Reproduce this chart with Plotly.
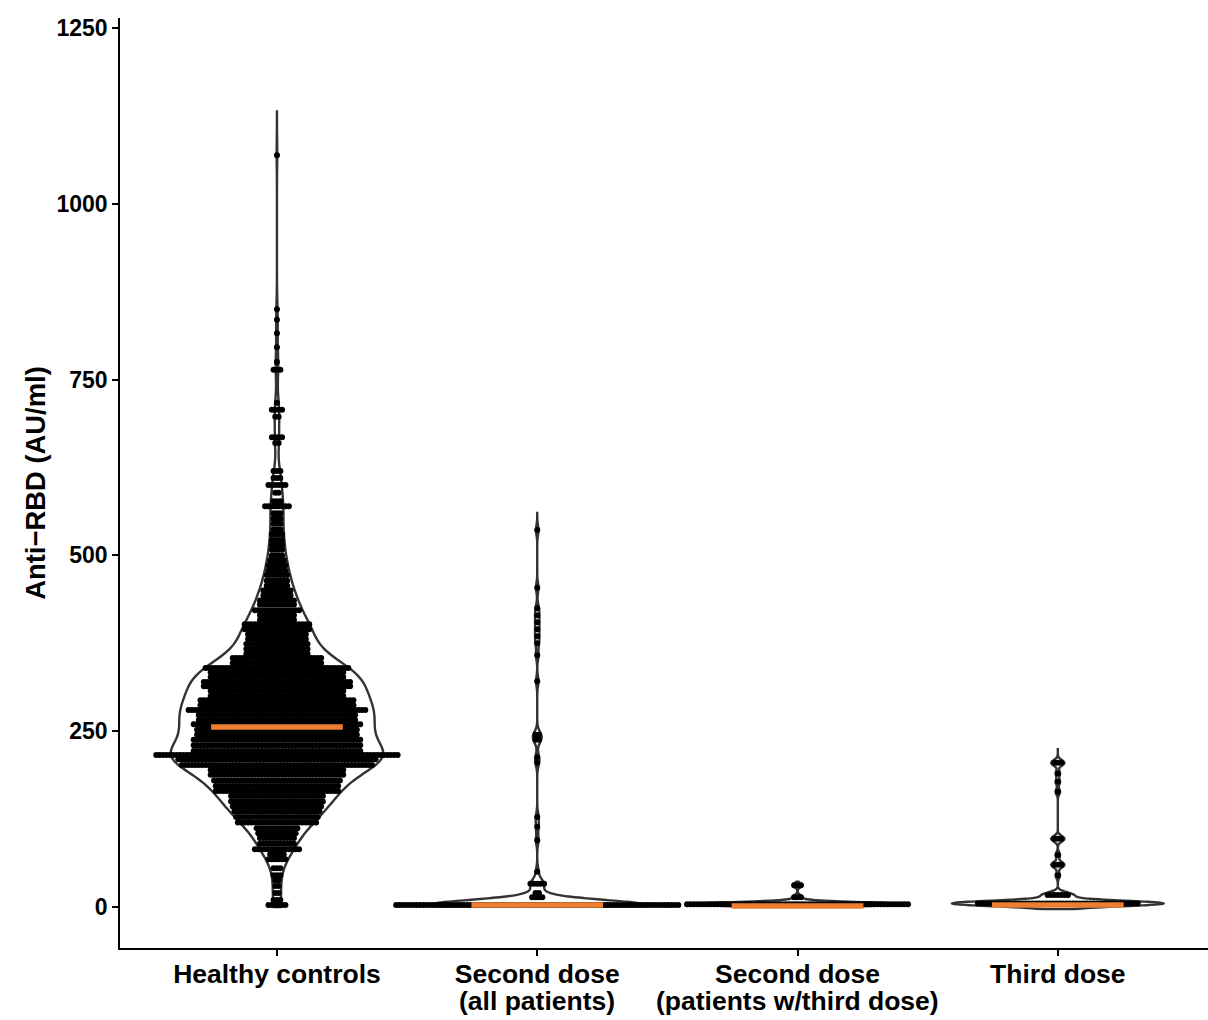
import numpy as np
import plotly.graph_objects as go

# ---------------- data ----------------
categories = ["Healthy controls", "Second dose", "Second dose", "Third dose"]
subtitles = ["", "(all patients)", "(patients w/third dose)", ""]

# dot-plot rows: bin value (AU/ml) and number of dots in that row
healthy_bins = [3, 10, 20, 30, 38, 45, 55, 68, 75, 82, 90, 98, 105, 112, 120, 128, 136, 143, 150, 158,
                165, 172, 180, 188, 195, 202, 210, 216, 222, 230, 238, 245, 252, 260, 266, 273, 280, 287,
                294, 300, 307, 314, 320, 327, 334, 340, 347, 354, 360, 367, 374, 381, 388, 395, 402, 408,
                415, 422, 430, 436, 443, 450, 457, 464, 472, 478, 486, 493, 500, 508, 515, 522, 530, 537,
                545, 552, 560, 570, 577, 589, 600, 610, 620, 660, 668, 697, 707, 717, 764, 775, 796, 816,
                835, 850, 1069]
healthy_counts = [6, 3, 2, 2, 2, 3, 3, 6, 5, 14, 11, 11, 12, 13, 24, 25, 26, 27, 28, 28,
                  37, 37, 38, 40, 40, 57, 59, 72, 50, 50, 50, 48, 48, 50, 47, 47, 53, 46,
                  46, 40, 40, 44, 44, 40, 40, 43, 27, 27, 19, 19, 19, 18, 18, 20, 20, 11,
                  11, 14, 11, 11, 9, 9, 7, 7, 7, 6, 6, 5, 4, 4, 4, 4, 4, 3,
                  3, 3, 3, 8, 3, 2, 6, 3, 3, 2, 4, 2, 4, 1, 3, 1, 1, 1,
                  1, 1, 1]

second_all_bins = [3, 14, 20, 33, 50, 95, 114, 128, 205, 213, 238, 245, 321, 358, 375, 385, 395,
                   405, 415, 425, 454, 536]
second_all_counts = [84, 4, 2, 5, 1, 1, 1, 1, 1, 1, 2, 2, 1, 1, 1, 1, 1,
                     1, 1, 1, 1, 1]

second_third_bins = [4, 14, 31]
second_third_counts = [66, 3, 3]

third_bins = [5, 17, 45, 60, 74, 97, 164, 178, 190, 205]
third_counts = [48, 7, 1, 3, 1, 3, 1, 1, 1, 3]

medians = [256, 3, 1.5, 3]
violin_top = [1133, 562, 36, 226]
violin_bottom = [0, 1, 1, -3]
bandwidths = [19, 7, 3, 4]

y_ticks = [0, 250, 500, 750, 1000, 1250]

# ---------------- styles ----------------
FONT = "Liberation Sans, Arial, Helvetica, sans-serif"
DOT_STEP = 0.01306      # horizontal spacing between stacked dots (x units)
DOT_SIZE = 6
VIOLIN_WIDTH = 0.815
ORANGE = "#EE7D31"

groups = [(healthy_bins, healthy_counts),
          (second_all_bins, second_all_counts),
          (second_third_bins, second_third_counts),
          (third_bins, third_counts)]

fig = go.Figure()

# violins (outline only)
for i, (bins, counts) in enumerate(groups):
    vals = np.repeat(np.array(bins, dtype=float), counts)
    fig.add_trace(go.Violin(
        x0=i, y=vals, width=VIOLIN_WIDTH, scalemode="width", side="both",
        points=False, box_visible=False, meanline_visible=False,
        bandwidth=bandwidths[i], spanmode="manual", span=[violin_bottom[i], violin_top[i]],
        line=dict(color="#333333", width=2.4), fillcolor="rgba(0,0,0,0)",
        showlegend=False, hoverinfo="skip"))

# centred dot-plot
for i, (bins, counts) in enumerate(groups):
    xs, ys = [], []
    for b, n in zip(bins, counts):
        offs = (np.arange(n) - (n - 1) / 2.0) * DOT_STEP
        xs.extend((i + offs).tolist())
        ys.extend([b] * n)
    fig.add_trace(go.Scatter(
        x=xs, y=ys, mode="markers",
        marker=dict(size=DOT_SIZE, color="black", line=dict(width=0)),
        showlegend=False, hoverinfo="skip"))

# median bars
for i, m in enumerate(medians):
    fig.add_trace(go.Scatter(
        x=[i - 0.253, i + 0.253], y=[m, m], mode="lines",
        line=dict(color=ORANGE, width=5.5), showlegend=False, hoverinfo="skip"))

# second lines of the category labels
for i, s in enumerate(subtitles):
    if s:
        fig.add_annotation(x=i, xref="x", y=0, yref="paper", yanchor="middle",
                           yshift=-53, text=s, showarrow=False,
                           font=dict(family=FONT, size=26.5, color="black", weight="bold"))

fig.update_layout(
    width=1208, height=1020,
    margin=dict(l=120, r=0, t=18, b=72),
    plot_bgcolor="white", paper_bgcolor="white",
    showlegend=False, violinmode="overlay",
    font=dict(family=FONT, color="black"),
)
fig.update_xaxes(
    range=[-0.603, 3.577], tickvals=[0, 1, 2, 3], ticktext=categories,
    showgrid=False, zeroline=False, showline=True, linecolor="black", linewidth=1.5,
    ticks="outside", ticklen=6, tickwidth=1.5, tickcolor="black", automargin=False,
    ticklabelstandoff=-5,
    tickfont=dict(family=FONT, size=26.5, color="black", weight="bold"))
fig.update_yaxes(
    range=[-58.3, 1264.2], tickvals=y_ticks, ticktext=[str(t) for t in y_ticks],
    showgrid=False, zeroline=False, showline=True, linecolor="black", linewidth=1.5,
    ticks="outside", ticklen=6, tickwidth=1.5, tickcolor="black", automargin=False,
    tickfont=dict(family=FONT, size=23, color="black", weight="bold"),
    title=dict(text="Anti−RBD (AU/ml)", standoff=3,
               font=dict(family=FONT, size=27.4, color="black", weight="bold")))

fig.write_html("out.html", config={"displayModeBar": False},
               post_script="document.body.style.margin='0px';")
